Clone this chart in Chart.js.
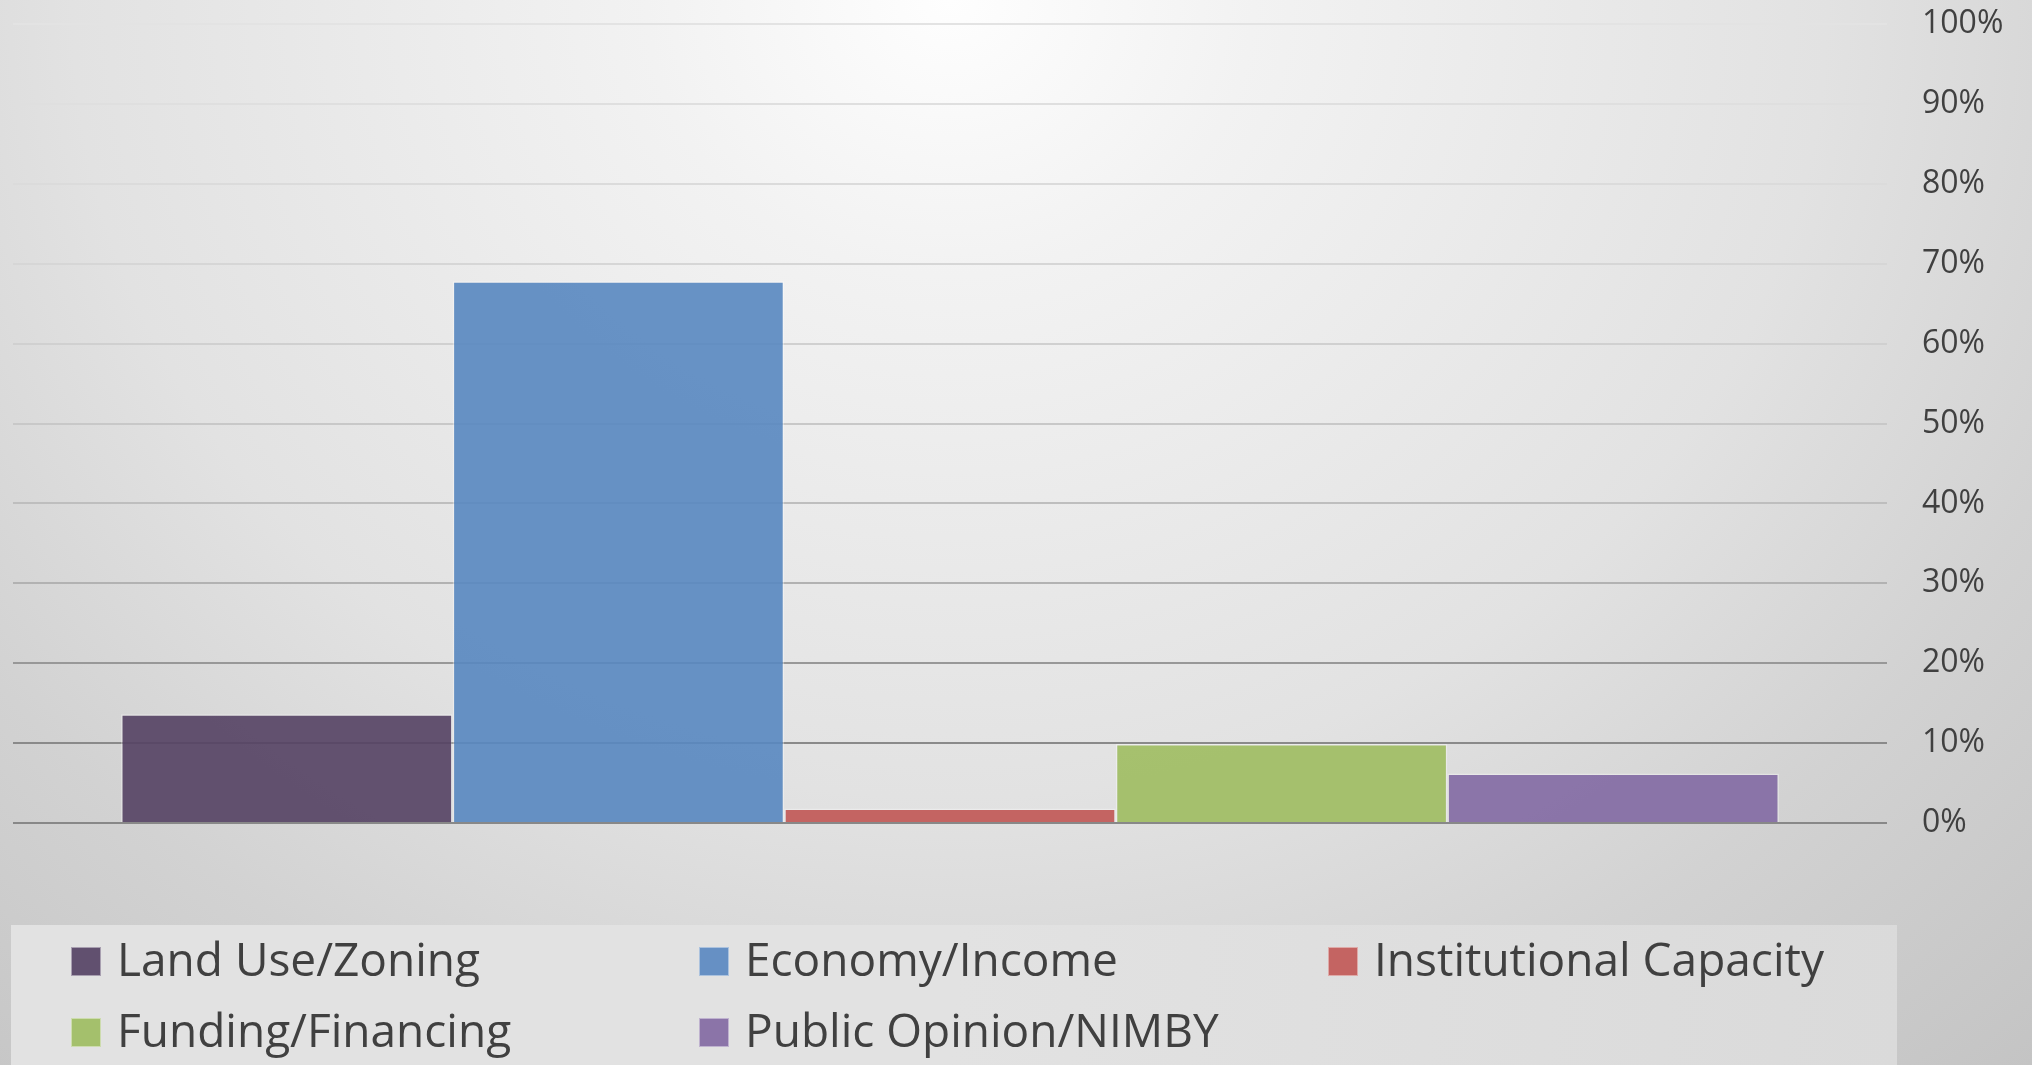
<!DOCTYPE html>
<html>
<head>
<meta charset="utf-8">
<script src="https://cdn.jsdelivr.net/npm/chart.js@4"></script>
<style>
  html, body { margin: 0; padding: 0; overflow: hidden; }
  body {
    width: 2032px; height: 1065px;
    background: radial-gradient(ellipse 1595px 1450px at 950px 0px, #fefefe 0%, #f2f2f2 19%, #e2e2e2 55%, #d2d2d2 76%, #c4c4c4 100%);
  }
  #wrap { position: absolute; left: 0; top: 0; width: 2032px; height: 1065px; }
</style>
</head>
<body>
<div id="wrap"><canvas id="c" width="2032" height="1065"></canvas></div>
<script>
// ---- data ----
const categories = [''];
const seriesNames = ['Land Use/Zoning', 'Economy/Income', 'Institutional Capacity', 'Funding/Financing', 'Public Opinion/NIMBY'];
const seriesValues = [13.6, 67.8, 1.8, 9.9, 6.2];
const tickValues = [0, 10, 20, 30, 40, 50, 60, 70, 80, 90, 100];

// ---- styles ----
const barFills = ['rgba(84,65,99,0.9)', 'rgba(88,135,192,0.9)', 'rgba(193,86,84,0.9)', 'rgba(158,189,96,0.9)', 'rgba(130,105,163,0.9)'];
const swatchFills = ['#61506f', '#6690c4', '#c46462', '#a4c06c', '#8b74a8'];
const gridShades = {0:'#888888',10:'#8a8a8a',20:'#989898',30:'#b2b2b2',40:'#bebebe',50:'#c8c8c8',60:'#d0d0d0',70:'#d6d6d6',80:'#dbdbdb',90:'#dfdfdf',100:'#e3e3e3'};

const datasets = seriesNames.map((name, i) => ({
  label: name,
  data: [seriesValues[i]],
  backgroundColor: barFills[i],
  borderColor: 'rgba(255,255,255,0.35)',
  borderWidth: 1.5,
  swatch: swatchFills[i],
  categoryPercentage: 0.8847,
  barPercentage: 1.0
}));

const legendPlugin = {
  id: 'gridLegend',
  afterDraw(chart) {
    const ctx = chart.ctx;
    ctx.save();
    const g = ctx.createLinearGradient(11, 925, 1897, 1065);
    g.addColorStop(0, '#e2e2e2');
    g.addColorStop(0.5, '#e2e2e2');
    g.addColorStop(1, '#dadada');
    ctx.fillStyle = g;
    ctx.fillRect(11, 925, 1886, 140);
    const colX = [71, 699, 1328];
    const rowBase = [976, 1047];
    ctx.font = '46px "Open Sans"';
    ctx.textBaseline = 'alphabetic';
    ctx.textAlign = 'left';
    chart.data.datasets.forEach((ds, i) => {
      const col = i % 3, row = Math.floor(i / 3);
      const x = colX[col], base = rowBase[row];
      ctx.fillStyle = ds.swatch;
      ctx.fillRect(x, base - 29, 30, 29);
      ctx.strokeStyle = 'rgba(255,255,255,0.45)';
      ctx.lineWidth = 1;
      ctx.strokeRect(x + 0.5, base - 28.5, 29, 28);
      ctx.fillStyle = '#404040';
      ctx.fillText(ds.label, x + 46, base);
    });
    ctx.restore();
  }
};

new Chart(document.getElementById('c'), {
  type: 'bar',
  data: { labels: categories, datasets },
  options: {
    responsive: false,
    animation: false,
    layout: { padding: { left: 13, top: 24, right: 0, bottom: 242 } },
    plugins: { legend: { display: false }, tooltip: { enabled: false } },
    scales: {
      x: { display: false },
      y: {
        position: 'right',
        min: 0, max: 100,
        afterBuildTicks(scale) { scale.ticks = tickValues.map(v => ({ value: v })); },
        afterFit(scale) { scale.width = 145; scale.paddingTop = 0; scale.paddingBottom = 0; },
        border: { display: false },
        grid: {
          drawTicks: false,
          lineWidth: 2,
          color: (c) => gridShades[c.tick ? c.tick.value : 0] || '#cccccc'
        },
        ticks: {
          padding: 35,
          color: '#404040',
          font: { family: 'Open Sans', size: 32 },
          callback: (v) => v + '%'
        }
      }
    }
  },
  plugins: [legendPlugin]
});
</script>
</body>
</html>
